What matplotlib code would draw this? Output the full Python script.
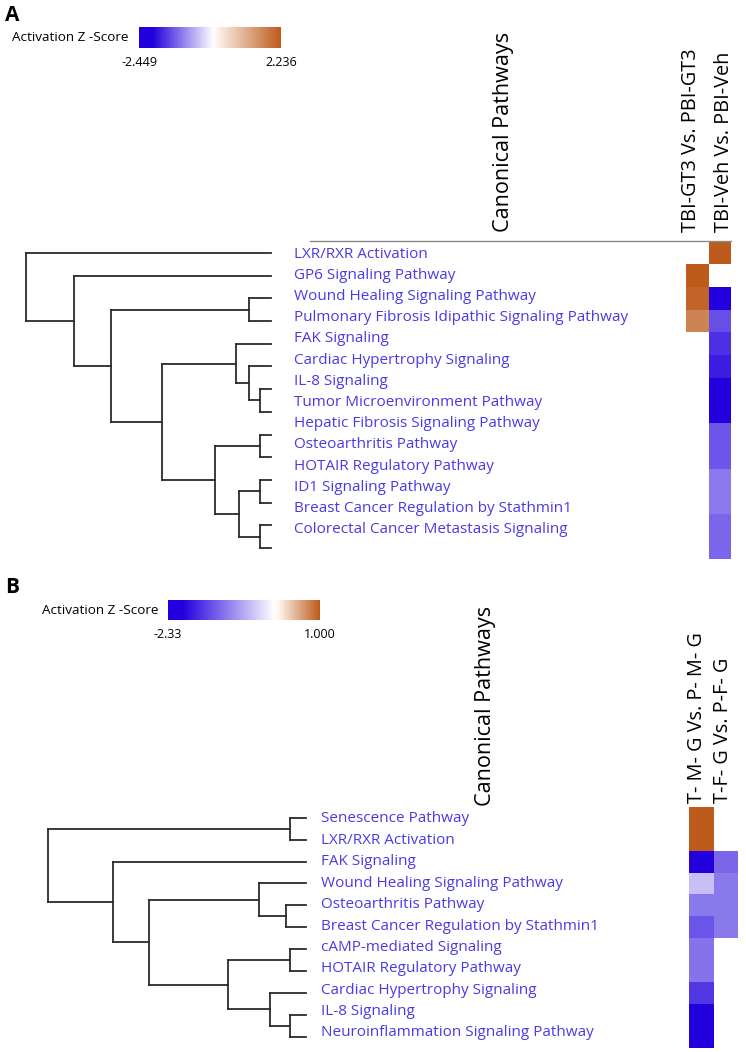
import numpy as np
import matplotlib
matplotlib.use("Agg")
import matplotlib.pyplot as plt
from matplotlib.colors import LinearSegmentedColormap, Normalize

plt.rcParams['font.family'] = ['Open Sans', 'DejaVu Sans']

# ---------------- data ----------------
pathways_a = [
    "LXR/RXR Activation",
    "GP6 Signaling Pathway",
    "Wound Healing Signaling Pathway",
    "Pulmonary Fibrosis Idipathic Signaling Pathway",
    "FAK Signaling",
    "Cardiac Hypertrophy Signaling",
    "IL-8 Signaling",
    "Tumor Microenvironment Pathway",
    "Hepatic Fibrosis Signaling Pathway",
    "Osteoarthritis Pathway",
    "HOTAIR Regulatory Pathway",
    "ID1 Signaling Pathway",
    "Breast Cancer Regulation by Stathmin1",
    "Colorectal Cancer Metastasis Signaling",
]
columns_a = ["TBI-GT3 Vs. PBI-GT3", "TBI-Veh Vs. PBI-Veh"]
nan = np.nan
z_a_gt3 = [nan, 2.236, 2.09, 1.68, nan, nan, nan, nan, nan, nan, nan, nan, nan, nan]
z_a_veh = [2.236, nan, -2.449, -1.37, -1.62, -1.77, -2.449, -2.449,
           -1.33, -1.33, -1.05, -1.05, -1.19, -1.19]
zrange_a = [-2.449, 2.236]
# dendrogram: (merge height, left, right); ints are leaf row indices
tree_a = (1.0, 0, (0.804, 1, (0.653, (0.089, 2, 3),
          (0.444, (0.142, 4, (0.089, 5, (0.044, 6, 7))),
                  (0.228, (0.044, 8, 9), (0.13, (0.044, 10, 11), (0.044, 12, 13)))))))

pathways_b = [
    "Senescence Pathway",
    "LXR/RXR Activation",
    "FAK Signaling",
    "Wound Healing Signaling Pathway",
    "Osteoarthritis Pathway",
    "Breast Cancer Regulation by Stathmin1",
    "cAMP-mediated Signaling",
    "HOTAIR Regulatory Pathway",
    "Cardiac Hypertrophy Signaling",
    "IL-8 Signaling",
    "Neuroinflammation Signaling Pathway",
]
columns_b = ["T- M- G Vs. P- M- G", "T-F- G Vs. P-F- G"]
z_b_m = [1.0, 1.0, -2.33, -0.50, -1.06, -1.345, -1.10, -1.10, -1.58, -2.33, -2.33]
z_b_f = [nan, nan, -1.20, -1.06, -1.06, -1.06, nan, nan, nan, nan, nan]
zrange_b = [-2.33, 1.0]
tree_b = (1.0, (0.062, 0, 1), (0.748, 2, (0.608, (0.181, 3, (0.079, 4, 5)),
          (0.302, (0.062, 6, 7), (0.138, 8, (0.062, 9, 10))))))

# ---------------- helpers ----------------
W, H = 746, 1052
fig = plt.figure(figsize=(W / 100, H / 100), dpi=100)

BLUE = '#2200DD'
ORANGE = '#BE5A1C'
LABEL_COLOR = '#4A3AE6'


def make_cmap(vmin, vmax):
    p0 = -vmin / (vmax - vmin)
    return LinearSegmentedColormap.from_list('ipa', [
        (0.0, BLUE), (0.1, '#2402DD'), (p0, '#FFFFFF'),
        (min(p0 + 0.04, 0.99), '#FBF1E6'), (1.0, ORANGE)])


def ax_px(x0, y0, x1, y1):
    return fig.add_axes([x0 / W, 1 - y1 / H, (x1 - x0) / W, (y1 - y0) / H])


def draw_tree(ax, node):
    if isinstance(node, int):
        return float(node), 0.0
    h, l, r = node
    yl, hl = draw_tree(ax, l)
    yr, hr = draw_tree(ax, r)
    kw = dict(color='#2b2b2b', lw=1.3, solid_capstyle='projecting', clip_on=False)
    ax.plot([hl, h], [yl, yl], **kw)
    ax.plot([hr, h], [yr, yr], **kw)
    ax.plot([h, h], [yl, yr], **kw)
    return (yl + yr) / 2, h


def panel(names, cols, zcols, zrange, tree, geo):
    n = len(names)
    vmin, vmax = zrange
    cmap = make_cmap(vmin, vmax)
    norm = Normalize(vmin, vmax)
    # heatmap
    hx0, hx1, hy0, hy1 = geo['heat']
    axh = ax_px(hx0, hy0, hx1, hy1)
    data = np.ma.masked_invalid(np.array(zcols, dtype=float).T)
    axh.pcolormesh(np.arange(len(cols) + 1), np.arange(n + 1), data,
                   cmap=cmap, norm=norm, edgecolors='none')
    axh.set_xlim(0, len(cols))
    axh.set_ylim(n, 0)
    axh.axis('off')
    # dendrogram
    dx0, dx1 = geo['dend']
    axd = ax_px(dx0, hy0, dx1, hy1)
    draw_tree(axd, tree)
    axd.set_xlim(1.0, 0.0)
    axd.set_ylim(n - 0.5, -0.5)
    axd.axis('off')
    # row labels
    lx, ly0, ldy = geo['labels']
    for i, name in enumerate(names):
        fig.text(lx / W, 1 - (ly0 + i * ldy) / H, name, color=LABEL_COLOR,
                 fontsize=11.0, va='center', ha='left')
    # column labels
    for cx, c in zip(geo['colx'], cols):
        fig.text(cx / W, 1 - geo['col_bottom'] / H, c, rotation=90,
                 ha='center', va='bottom', fontsize=geo['colfs'])
    fig.text(geo['cp'][0] / W, 1 - geo['cp'][1] / H, "Canonical Pathways",
             rotation=90, ha='center', va='bottom', fontsize=15.6)
    # colorbar
    bx0, by0, bx1, by1 = geo['cbar']
    axc = ax_px(bx0, by0, bx1, by1)
    grad = np.linspace(vmin, vmax, 512)[None, :]
    axc.imshow(grad, aspect='auto', cmap=cmap, norm=norm,
               extent=[vmin, vmax, 0, 1])
    axc.set_yticks([])
    axc.set_xticks([vmin, vmax])
    fmt = geo['tickfmt']
    axc.set_xticklabels([fmt[0].format(vmin), fmt[1].format(vmax)], fontsize=9)
    axc.tick_params(axis='x', length=0, pad=6)
    for s in axc.spines.values():
        s.set_visible(False)
    fig.text((bx0 - 10) / W, 1 - ((by0 + by1) / 2) / H, "Activation Z -Score",
             ha='right', va='center', fontsize=9.7)
    # panel letter
    fig.text(geo['letter'][1] / W, 1 - geo['letter'][2] / H, geo['letter'][0],
             fontsize=15, fontweight='bold', ha='left', va='top')
    return axh


geo_a = dict(heat=(686, 731.3, 241.7, 559.3), dend=(26, 270.7),
             labels=(294, 254, 21.2), colx=(691, 724), col_bottom=232,
             colfs=14.3, cp=(503, 232), cbar=(139, 27, 281, 48),
             tickfmt=("{:.3f}", "{:.3f}"), letter=("A", 5, 5))
panel(pathways_a, columns_a, [z_a_gt3, z_a_veh], zrange_a, tree_a, geo_a)
# top rule over panel A heatmap
fig.add_artist(plt.Line2D([310 / W, 731 / W], [1 - 241 / H, 1 - 241 / H],
                          color='#8a8a8a', lw=1.0))

geo_b = dict(heat=(689.3, 738, 806.8, 1047.7), dend=(47.7, 306),
             labels=(321, 819, 21.4), colx=(697, 723), col_bottom=803,
             colfs=14.3, cp=(486, 806), cbar=(168, 600, 320, 620),
             tickfmt=("{:.2f}", "{:.3f}"), letter=("B", 5, 577))
panel(pathways_b, columns_b, [z_b_m, z_b_f], zrange_b, tree_b, geo_b)

fig.savefig("out.png", dpi=100, facecolor='white')
